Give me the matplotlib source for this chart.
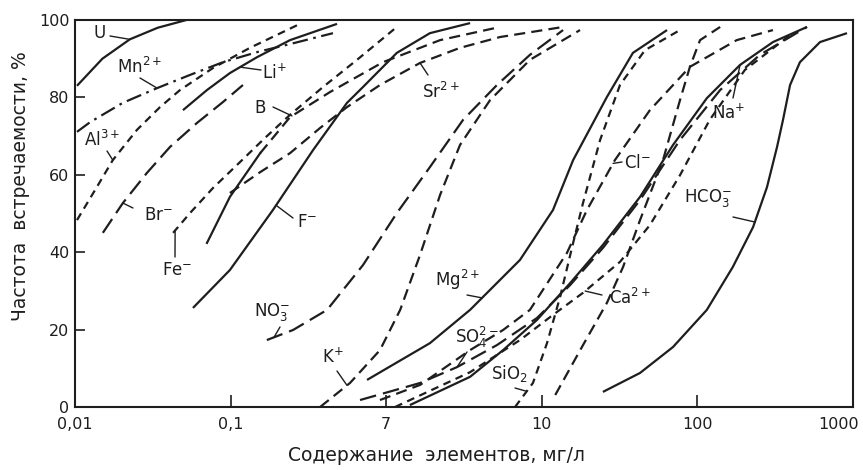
import numpy as np
import matplotlib.pyplot as plt
import matplotlib.transforms as mtransforms
from matplotlib.ticker import FixedLocator, NullLocator

# =====================================
# DATA
# x - content, mg/l ; y - frequency, %
# =====================================

u_x = [0.0103, 0.015, 0.0225, 0.034, 0.052]
u_y = [83, 90, 95, 98, 100]

mn_x = [0.0103, 0.0125, 0.0203, 0.0337, 0.0548, 0.0893, 0.148, 0.259, 0.455]
mn_y = [71.1, 73.6, 78.6, 82.4, 85.8, 89.1, 91.7, 94.1, 96.6]

al_x = [0.0103, 0.0138, 0.0175, 0.025, 0.0352, 0.0473, 0.0771, 0.133, 0.279]
al_y = [48.3, 56.8, 63.8, 71.6, 77.5, 81.9, 87.6, 92.8, 99.0]

li_x = [0.0494, 0.0705, 0.0991, 0.148, 0.241, 0.483]
li_y = [76.7, 81.9, 86.3, 90.4, 94.8, 99.0]

br_x = [0.0151, 0.0203, 0.029, 0.0408, 0.0608, 0.0893, 0.120]
br_y = [45.0, 52.7, 60.5, 67.2, 73.4, 78.8, 83.2]

fe_x = [0.0427, 0.0548, 0.0771, 0.115, 0.166, 0.241, 0.393, 0.649, 1.17]
fe_y = [45.0, 50.1, 56.6, 63.3, 69.5, 75.5, 82.7, 89.7, 98.2]

b_x = [0.0705, 0.099, 0.155, 0.241, 0.436, 0.953, 2.22, 5.39]
b_y = [42.4, 54.3, 65.6, 74.9, 81.4, 89.1, 94.8, 98.2]

sr_x = [0.099, 0.155, 0.241, 0.376, 0.560, 0.912, 1.65, 2.98, 5.39, 13.7]
sr_y = [55.3, 60.7, 65.6, 72.1, 77.5, 83.2, 88.9, 92.8, 95.6, 98.2]

f_x = [0.0573, 0.099, 0.187, 0.339, 0.560, 0.710, 1.17, 1.91, 3.46]
f_y = [25.6, 35.4, 50.9, 66.4, 78.6, 82.7, 91.5, 96.6, 99.2]

no3_x = [0.171, 0.252, 0.417, 0.710, 1.17, 1.91, 3.12, 5.15, 8.39, 13.7]
no3_y = [17.3, 19.9, 25.1, 36.7, 50.1, 62.0, 74.2, 83.2, 91.0, 97.4]

k_x = [0.376, 0.585, 0.912, 1.23, 1.65, 2.22, 2.98, 4.65, 8.39, 17.6]
k_y = [0, 6.2, 14.7, 25.1, 39.3, 54.8, 67.7, 79.3, 89.7, 97.4]

mg_x = [0.753, 1.91, 3.46, 7.24, 11.8, 15.9, 26.2, 38.5, 63.8]
mg_y = [7.0, 16.5, 25.1, 38.0, 50.9, 63.8, 80.1, 91.5, 97.4]

sio2_x = [6.73, 8.77, 10.8, 13.1, 15.9, 18.4, 23.7, 31.8, 46.0, 77.3]
sio2_y = [0, 6.2, 16.5, 28.4, 42.4, 52.7, 69.0, 83.2, 92.2, 97.4]

cl_x = [0.912, 1.65, 3.46, 5.64, 8.39, 14.5, 19.5, 29.5, 49.5, 89.5, 179, 306]
cl_y = [1.8, 5.7, 14.7, 19.9, 25.1, 39.8, 50.9, 63.8, 76.7, 87.9, 94.8, 97.4]

na_x = [1.42, 3.46, 5.64, 9.31, 15.2, 24.7, 42.8, 69.7, 115, 188, 306, 506]
na_y = [0.5, 7.8, 14.7, 22.5, 32.0, 41.9, 54.3, 67.7, 79.8, 88.4, 94.3, 98.2]

ca_x = [1.14, 3.46, 7.24, 11.8, 18.4, 31.8, 49.5, 77.3, 120, 202, 394]
ca_y = [0, 9.0, 17.3, 23.8, 29.5, 37.5, 47.0, 59.9, 74.2, 87.1, 96.1]

so4_x = [0.679, 1.65, 2.85, 5.15, 9.31, 15.2, 24.7, 42.8, 77.3, 140, 252, 506]
so4_y = [1.8, 6.2, 10.3, 16.0, 23.0, 31.5, 41.1, 53.5, 69.0, 81.9, 91.0, 98.2]

# steep unlabeled dashed curve between SiO2 and Na+
s_x = [12.2, 18.4, 26.2, 33.3, 42.8, 60.1, 77.3, 89.5, 104, 140]
s_y = [3.1, 16.0, 26.9, 36.2, 48.3, 63.8, 79.3, 87.9, 94.8, 98.2]

hco3_x = [24.7, 42.8, 69.7, 115, 169, 228, 280, 325, 355, 394, 456, 614, 915]
hco3_y = [3.9, 8.8, 15.5, 25.1, 36.2, 46.5, 56.8, 67.2, 74.2, 83.2, 89.1, 94.3, 96.6]

x_ticks = [0.01, 0.1, 1, 10, 100, 1000]
x_tick_labels = ["0,01", "0,1", "7", "10", "100", "1000"]
y_ticks = [0, 20, 40, 60, 80, 100]

# =====================================
# STYLES
# =====================================

SOLID = None
SHORT = (3.5, 2.5)
MEDIUM = (5, 2.8)
LONG = (7.5, 3.2)
DASHDOT = (7, 2.5, 1.2, 2.5)

curves = {
    "U": (u_x, u_y, SOLID),
    "Mn": (mn_x, mn_y, DASHDOT),
    "Al": (al_x, al_y, SHORT),
    "Li": (li_x, li_y, SOLID),
    "Br": (br_x, br_y, LONG),
    "Fe": (fe_x, fe_y, SHORT),
    "Sr": (sr_x, sr_y, MEDIUM),
    "F": (f_x, f_y, SOLID),
    "NO3": (no3_x, no3_y, LONG),
    "K": (k_x, k_y, MEDIUM),
    "Mg": (mg_x, mg_y, SOLID),
    "SiO2": (sio2_x, sio2_y, SHORT),
    "Cl": (cl_x, cl_y, MEDIUM),
    "Na": (na_x, na_y, SOLID),
    "Ca": (ca_x, ca_y, SHORT),
    "SO4": (so4_x, so4_y, LONG),
    "S": (s_x, s_y, MEDIUM),
    "HCO3": (hco3_x, hco3_y, SOLID),
}

INK = "#1e1e1e"
LW = 1.6

# =====================================
# FIGURE
# =====================================

fig = plt.figure(figsize=(8.63, 4.70), dpi=100)
fig.patch.set_facecolor("white")
ax = fig.add_axes([75 / 863, 1 - 407 / 470, 778 / 863, 387 / 470])

for name, (xs, ys, dash) in curves.items():
    line, = ax.plot(xs, ys, color=INK, lw=LW, solid_capstyle="butt",
                    solid_joinstyle="round")
    if dash is not None:
        line.set_dashes(dash)

# B: solid at the bottom, dashed above
ax.plot(b_x[:3], b_y[:3], color=INK, lw=LW)
ax.plot(b_x[2:], b_y[2:], color=INK, lw=LW, dashes=MEDIUM)

ax.set_xscale("log")
ax.set_xlim(0.01, 1000)
ax.set_ylim(0, 100)

ax.xaxis.set_major_locator(FixedLocator(x_ticks))
ax.xaxis.set_minor_locator(NullLocator())
ax.set_xticklabels(x_tick_labels)
ax.set_yticks(y_ticks)

ax.tick_params(axis="x", direction="in", length=9, width=1.2, pad=7,
               labelsize=11.5, colors=INK)
ax.tick_params(axis="y", direction="in", length=7, width=1.2, pad=4,
               labelsize=11.5, colors=INK)
for s in ax.spines.values():
    s.set_linewidth(1.5)
    s.set_color(INK)

# last tick label sits at the very edge of the page
last = ax.get_xticklabels()[-1]
last.set_horizontalalignment("right")
last.set_transform(last.get_transform()
                   + mtransforms.ScaledTranslation(4 / 72, 0, fig.dpi_scale_trans))

ax.set_xlabel("Содержание  элементов, мг/л", fontsize=13.5, color=INK)
ax.xaxis.set_label_coords(0.464, -0.10)
ax.set_ylabel("Частота  встречаемости, %", fontsize=13.5, color=INK)
ax.yaxis.set_label_coords(-0.058, 0.57)

# =====================================
# LABELS WITH LEADERS
# =====================================


def frac(px, py):
    return ((px - 75) / 778, (407 - py) / 387)


def on_curve(name, xv):
    xs, ys = (b_x, b_y) if name == "B" else curves[name][:2]
    return xv, float(np.interp(np.log10(xv), np.log10(xs), ys))


labels = [
    ("U", "U", (100, 33), (110, 36), 0.0225),
    (r"Mn$^{2+}$", "Mn", (140, 67), (140, 78), 0.0337),
    (r"Li$^{+}$", "Li", (274, 73), (261, 70), 0.115),
    (r"Al$^{3+}$", "Al", (102, 140), (107, 151), 0.0175),
    (r"Br$^{-}$", "Br", (158, 215), (133, 208), 0.0203),
    ("B", "B", (260, 108), (273, 107), 0.248),
    (r"Sr$^{2+}$", "Sr", (441, 92), (428, 75), 1.65),
    (r"F$^{-}$", "F", (307, 222), (293, 218), 0.196),
    (r"Fe$^{-}$", "Fe", (177, 270), (175, 257), 0.044),
    (r"NO$_3^{-}$", "NO3", (272, 312), (280, 327), 0.190),
    (r"K$^{+}$", "K", (333, 357), (337, 371), 0.56),
    (r"Mg$^{2+}$", "Mg", (458, 280), (467, 295), 4.13),
    (r"SO$_4^{2-}$", "SO4", (477, 337), (467, 352), 2.85),
    (r"SiO$_2$", "SiO2", (509, 374), (515, 388), 8.0),
    (r"Cl$^{-}$", "Cl", (637, 163), (622, 162), 28.7),
    (r"Ca$^{2+}$", "Ca", (630, 298), (602, 295), 19.0),
    (r"Na$^{+}$", "Na", (729, 113), (733, 98), 188),
    (r"HCO$_3^{-}$", "HCO3", (708, 198), (733, 217), 234),
]

for text, name, tpos, lpos, tx in labels:
    ax.text(*frac(*tpos), text, transform=ax.transAxes, ha="center",
            va="center", fontsize=12, color=INK, family="DejaVu Sans")
    ax.annotate("", xy=on_curve(name, tx), xycoords="data",
                xytext=frac(*lpos), textcoords="axes fraction",
                arrowprops=dict(arrowstyle="-", lw=1.0, color=INK,
                                shrinkA=0, shrinkB=0))

fig.savefig("out.png", dpi=100)
